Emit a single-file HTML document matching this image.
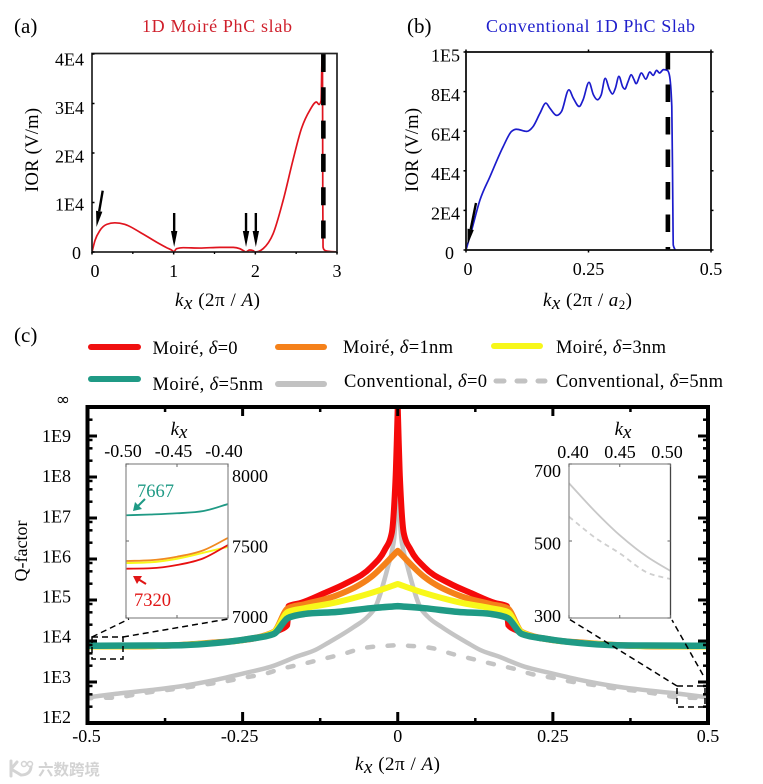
<!DOCTYPE html>
<html lang="en">
<head>
<meta charset="utf-8">
<title>Moiré PhC slab IOR and Q-factor</title>
<style>
html,body{margin:0;padding:0;background:#fff;width:763px;height:784px;overflow:hidden}
svg{display:block;font-family:"Liberation Serif","Noto Serif CJK SC",serif;fill:#000}
</style>
</head>
<body>
<svg id="fig" width="763" height="784" viewBox="0 0 763 784" xmlns="http://www.w3.org/2000/svg">
  <defs>
    <clipPath id="clipA"><rect x="92" y="53.500" width="245" height="198.500"/></clipPath>
    <clipPath id="clipC"><rect x="87.5" y="407" width="620.5" height="316"/></clipPath>
    <clipPath id="clipL"><rect x="126" y="464" width="102" height="154"/></clipPath>
    <clipPath id="clipR"><rect x="569" y="464" width="101.500" height="154"/></clipPath>
  </defs>

  <text x="14" y="33" font-size="21">(a)</text>
  <text x="142" y="32" font-size="18" fill="#cf1f2b" textLength="150">1D Moiré PhC slab</text>
  <text x="407" y="33" font-size="21">(b)</text>
  <text x="486" y="32" font-size="18" fill="#2020cc" textLength="209">Conventional  1D PhC Slab</text>
  <text x="14" y="342" font-size="21">(c)</text>

  <g id="panelA"></g>
  <text transform="translate(38,150) rotate(-90)" text-anchor="middle" font-size="18.500" textLength="84">IOR (V/m)</text>
  <text x="175" y="306" font-size="19" textLength="85"><tspan font-style="italic">k</tspan><tspan font-style="italic" dy="3">x</tspan><tspan dy="-3"> (2π / </tspan><tspan font-style="italic">A</tspan>)</text>

  <g id="panelB"></g>
  <text transform="translate(418,150) rotate(-90)" text-anchor="middle" font-size="18.500" textLength="84">IOR (V/m)</text>
  <text x="543" y="306" font-size="19" textLength="89"><tspan font-style="italic">k</tspan><tspan font-style="italic" dy="3">x</tspan><tspan dy="-3"> (2π / </tspan><tspan font-style="italic">a</tspan><tspan font-size="13" dy="3">2</tspan><tspan dy="-3">)</tspan></text>

  <g font-size="18.500">
    <g>
      <line x1="91" y1="347" x2="138" y2="347" stroke="#f01010" stroke-width="6" stroke-linecap="round"/>
      <text x="152.500" y="354" textLength="85">Moiré, <tspan font-style="italic">δ</tspan>=0</text>
    </g>
    <g>
      <line x1="278" y1="347" x2="324" y2="347" stroke="#f5811a" stroke-width="6" stroke-linecap="round"/>
      <text x="343" y="353" textLength="110">Moiré, <tspan font-style="italic">δ</tspan>=1nm</text>
    </g>
    <g>
      <line x1="494" y1="346" x2="540" y2="346" stroke="#f7f71a" stroke-width="6" stroke-linecap="round"/>
      <text x="556" y="353" textLength="110">Moiré, <tspan font-style="italic">δ</tspan>=3nm</text>
    </g>
    <g>
      <line x1="91" y1="379" x2="138" y2="379" stroke="#1f9a85" stroke-width="6" stroke-linecap="round"/>
      <text x="152.500" y="390" textLength="110.500">Moiré, <tspan font-style="italic">δ</tspan>=5nm</text>
    </g>
    <g>
      <line x1="278" y1="384" x2="324" y2="384" stroke="#c2c2c2" stroke-width="6" stroke-linecap="round"/>
      <text x="344" y="387" textLength="143">Conventional, <tspan font-style="italic">δ</tspan>=0</text>
    </g>
    <g>
      <line x1="496" y1="381" x2="545" y2="381" stroke="#c2c2c2" stroke-width="5" stroke-linecap="round" stroke-dasharray="8 13"/>
      <text x="556" y="387" textLength="167">Conventional, <tspan font-style="italic">δ</tspan>=5nm</text>
    </g>
  </g>

  <g id="panelC"></g>
  <text x="63" y="405" text-anchor="middle" font-size="17" font-family="'DejaVu Sans',sans-serif">∞</text>
  <text transform="translate(27,551) rotate(-90)" text-anchor="middle" font-size="18">Q-factor</text>
  <text x="355" y="770" font-size="19" textLength="85"><tspan font-style="italic">k</tspan><tspan font-style="italic" dy="3">x</tspan><tspan dy="-3"> (2π / </tspan><tspan font-style="italic">A</tspan>)</text>

  <g id="insetL"></g>
  <text x="179" y="435" text-anchor="middle" font-size="19"><tspan font-style="italic">k</tspan><tspan font-style="italic" dy="3">x</tspan></text>
  <text x="137" y="497" font-size="18.500" fill="#1f9a85">7667</text>
  <text x="134" y="606" font-size="18.500" fill="#e01515">7320</text>
  <g>
    <line x1="145" y1="499" x2="137" y2="507" stroke="#1f9a85" stroke-width="2"/>
    <polygon points="133,511 135,502 142,509" fill="#1f9a85"/>
  </g>
  <g>
    <line x1="146" y1="584" x2="138" y2="579" stroke="#e01515" stroke-width="2"/>
    <polygon points="133,576 142,576 137,584" fill="#e01515"/>
  </g>

  <g id="insetR"></g>
  <text x="623" y="435" text-anchor="middle" font-size="19"><tspan font-style="italic">k</tspan><tspan font-style="italic" dy="3">x</tspan></text>

  <g fill="none" stroke="#000" stroke-width="1.500" stroke-dasharray="6 4">
    <rect x="92" y="637" width="31" height="22"/>
    <line x1="92" y1="637" x2="129" y2="619"/>
    <line x1="123" y1="637" x2="228" y2="619"/>
    <rect x="677" y="686" width="28" height="21"/>
    <line x1="677" y1="686" x2="569" y2="619"/>
    <line x1="703" y1="675" x2="672" y2="620"/>
  </g>

  <g opacity="0.9">
    <path d="M11 761 L11 776 M11 769 L17 762 M11 769 L21 775 Q30 775 31 767" fill="none" stroke="#d0d0d0" stroke-width="3" stroke-linecap="round"/>
    <circle cx="24" cy="764" r="2.500" fill="none" stroke="#d0d0d0" stroke-width="1.500"/>
    <circle cx="30" cy="764" r="2.500" fill="none" stroke="#d0d0d0" stroke-width="1.500"/>
    <text x="38" y="775" font-size="15.500" font-weight="700" fill="#cfcfcf" font-family="'Liberation Sans','Noto Sans CJK SC',sans-serif">六数跨境</text>
  </g>
</svg>

<script>
/* ---------- Panel (a) data ---------- */
const aKx = [0,0.037,0.098,0.18,0.28,0.40,0.587,0.79,0.913,0.995,1.0,1.035,1.117,1.32,1.565,1.73,1.81,1.87,1.88,1.93,1.97,2.0,2.095,2.218,2.34,2.46,2.564,2.666,2.748,2.78,2.805,2.815,2.822,2.826,2.829,2.84,2.87,3.0];
const aIor = [0,2350,4370,5580,5900,5600,4000,2000,870,130,0,670,870,800,940,940,670,100,0,400,300,0,670,3700,10400,18500,24900,28600,30300,29800,30600,38000,40000,10400,1000,500,200,0];
const aXTicks = [0,1,2,3];
const aXMinor = [0.5,1.5,2.5];
const aYTicks = [0,10000,20000,30000,40000];
const aYLabels = ['0','1E4','2E4','3E4','4E4'];
const aCutoff = [2.833];
const aArrowsK = [1,1.88,2];

/* ---------- Panel (b) data ---------- */
const bKx = [0,0.0116,0.0286,0.049,0.076,0.093,0.103,0.124,0.137,0.151,0.163,0.171,0.185,0.195,0.21,0.219,0.231,0.239,0.251,0.26,0.268,0.276,0.284,0.293,0.299,0.305,0.312,0.32,0.324,0.331,0.337,0.343,0.347,0.358,0.367,0.375,0.382,0.389,0.395,0.403,0.411,0.415,0.42,0.422,0.423,0.427];
const bIor = [0,10100,25300,37100,52300,59900,61000,59900,62400,69100,74200,71700,68000,70000,80900,76700,72500,75900,84700,78400,75900,78400,86700,80900,78800,81800,87700,82300,81300,85200,88500,86000,84000,89400,86300,89900,88200,90700,89400,91100,90700,88500,72500,25300,2500,0];
const bXTicks = [0,0.25,0.5];
const bXLabels = ['0','0.25','0.5'];
const bYTicks = [0,20000,40000,60000,80000,100000];
const bYLabels = ['0','2E4','4E4','6E4','8E4','1E5'];
const bCutoff = [0.412];

/* ---------- Panel (c) data: |kx| and log10(Q), mirrored about kx = 0 ---------- */
const redK = [0,0.0015,0.003,0.005,0.0097,0.021,0.043,0.083,0.118,0.156,0.176,0.178,0.19,0.2,0.22,0.25,0.3,0.35,0.4,0.45,0.5];
const redLogQ = [9.71,8.9,8.17,7.51,6.63,6.22,5.80,5.41,5.17,4.93,4.85,4.39,4.27,4.2,4.1,4.02,3.95,3.90,3.8735,3.866,3.8645];
const orangeK = [0,0.043,0.097,0.15,0.177,0.2,0.25,0.3,0.35,0.4,0.45,0.5];
const orangeLogQ = [6.2,5.56,5.12,4.90,4.80,4.22,4.03,3.96,3.905,3.876,3.870,3.8675];
const yellowK = [0,0.043,0.097,0.15,0.177,0.2,0.25,0.3,0.35,0.4,0.45,0.5];
const yellowLogQ = [5.39,5.17,4.95,4.80,4.71,4.21,4.02,3.95,3.90,3.872,3.869,3.8667];
const tealK = [0,0.043,0.097,0.15,0.177,0.2,0.24,0.294,0.345,0.4,0.45,0.5];
const tealLogQ = [4.85,4.80,4.71,4.66,4.56,4.17,4.05,3.95,3.90,3.889,3.886,3.885];
const graySolidK = [0,0.0015,0.005,0.009,0.016,0.036,0.049,0.071,0.113,0.133,0.161,0.205,0.24,0.294,0.348,0.40,0.455,0.5];
const graySolidLogQ = [9.0,7.8,6.63,6.22,5.80,4.83,4.585,4.34,3.95,3.78,3.63,3.37,3.24,3.05,2.90,2.80,2.71,2.625];
const grayDashK = [0,0.054,0.089,0.121,0.153,0.188,0.214,0.25,0.283,0.315,0.348,0.386,0.418,0.455,0.488,0.5];
const grayDashLogQ = [3.90,3.83,3.68,3.56,3.44,3.32,3.20,3.10,3.00,2.93,2.85,2.78,2.71,2.62,2.61,2.603];
const cXTicks = [-0.5,-0.25,0,0.25,0.5];
const cXLabels = ['-0.5','-0.25','0','0.25','0.5'];
const cXMinor = [-0.375,-0.125,0.125,0.375];
const cYDecades = [2,3,4,5,6,7,8,9];
const cYLabels = ['1E2','1E3','1E4','1E5','1E6','1E7','1E8','1E9'];
const cMinorFactors = [2.5,5,8];

/* ---------- Left inset data ---------- */
const insetLK = [-0.5,-0.476,-0.45,-0.424,-0.4];
const insetLTeal = [7667,7672,7680,7695,7740];
const insetLOrange = [7370,7375,7398,7440,7520];
const insetLYellow = [7357,7362,7385,7424,7462];
const insetLRed = [7320,7323,7344,7388,7474];
const insetLXTicks = [-0.5,-0.45,-0.4];
const insetLXLabels = ['-0.50','-0.45','-0.40'];
const insetLYTicks = [7000,7500,8000];
const insetLYLabels = ['7000','7500','8000'];

/* ---------- Right inset data ---------- */
const insetRK = [0.4,0.426,0.45,0.477,0.5];
const insetRSolid = [650,576,515,459,422];
const insetRDash = [563,508,468,418,401];
const insetRXTicks = [0.4,0.45,0.5];
const insetRXLabels = ['0.40','0.45','0.50'];
const insetRYTicks = [300,500,700];
const insetRYLabels = ['300','500','700'];

const NS = 'http://www.w3.org/2000/svg';
function mk(parent, tag, attrs) {
  const el = document.createElementNS(NS, tag);
  for (const k in attrs) el.setAttribute(k, attrs[k]);
  parent.appendChild(el);
  return el;
}
/* Monotone cubic through points whose x runs strictly one way: no overshoot. */
function monoSegments(pts) {
  const n = pts.length, h = [], s = [], t = new Array(n);
  for (let i = 0; i < n - 1; i++) {
    h[i] = pts[i + 1][0] - pts[i][0];
    s[i] = (pts[i + 1][1] - pts[i][1]) / h[i];
  }
  for (let i = 1; i < n - 1; i++) {
    const p = (s[i - 1] * h[i] + s[i] * h[i - 1]) / (h[i - 1] + h[i]);
    t[i] = (Math.sign(s[i - 1]) + Math.sign(s[i])) * Math.min(Math.abs(s[i - 1]), Math.abs(s[i]), 0.5 * Math.abs(p));
  }
  t[0] = s[0];
  t[n - 1] = s[n - 2];
  let d = '';
  for (let i = 0; i < n - 1; i++) {
    const c = h[i] / 3;
    d += ' C' + (pts[i][0] + c).toFixed(2) + ' ' + (pts[i][1] + t[i] * c).toFixed(2) + ' ' +
      (pts[i + 1][0] - c).toFixed(2) + ' ' + (pts[i + 1][1] - t[i + 1] * c).toFixed(2) + ' ' +
      pts[i + 1][0].toFixed(2) + ' ' + pts[i + 1][1].toFixed(2);
  }
  return d;
}
function monoPath(pts) {
  return 'M' + pts[0][0].toFixed(2) + ' ' + pts[0][1].toFixed(2) + monoSegments(pts);
}
function label(parent, txt, x, y, size, anchor, name) {
  const el = mk(parent, 'text', {x: x, y: y, 'font-size': size, 'text-anchor': anchor});
  el.textContent = txt;
  
  
  return el;
}
function segment(parent, x1, y1, x2, y2, color, width, name) {
  const el = mk(parent, 'line', {x1: x1, y1: y1, x2: x2, y2: y2, stroke: color, 'stroke-width': width});
  
  
  return el;
}
function curve(parent, d, color, width, name, extra) {
  const el = mk(parent, 'path', Object.assign({d: d, fill: 'none', stroke: color, 'stroke-width': width, 'stroke-linejoin': 'round'}, extra || {}));
  
  
  return el;
}
function frame(parent, x, y, w, h, color, width, name) {
  const el = mk(parent, 'rect', {x: x, y: y, width: w, height: h, fill: 'none', stroke: color, 'stroke-width': width});
  
  
  return el;
}
function arrow(parent, x1, y1, x2, y2, name) {
  const g = mk(parent, 'g', {});
  
  
  const dx = x2 - x1, dy = y2 - y1, len = Math.hypot(dx, dy), ux = dx / len, uy = dy / len;
  const bx = x2 - ux * 16, by = y2 - uy * 16;
  segment(g, x1, y1, bx, by, '#000', 2.4, name + '-shaft');
  const head = mk(g, 'polygon', {points: x2 + ',' + y2 + ' ' + (bx - uy * 3.2) + ',' + (by + ux * 3.2) + ' ' + (bx + uy * 3.2) + ',' + (by - ux * 3.2), fill: '#000'});
  
  
}

/* ---------- Panel (a) ---------- */
(function () {
  const g = document.getElementById('panelA');
  const xS = k => 92 + k * (245 / 3);
  const yS = v => 252 - v * (198 / 40000);
  const pts = aKx.map((k, i) => [xS(k), yS(aIor[i])]);
  const plot = mk(g, 'g', {'clip-path': 'url(#clipA)'});
  
  
  curve(plot, monoPath(pts), '#e0141e', 1.7, 'moire-ior-curve');
  aCutoff.forEach(k => {
    const el = segment(g, xS(k), yS(40000), xS(k), yS(0), '#000', 4.600, 'panel-a-cutoff-line');
    el.setAttribute('stroke-dasharray', '18 15.3');
  });
  frame(g, 92, 53.5, 245, 198.5, '#222', 1.7, 'panel-a-frame');
  aYTicks.forEach((v, i) => {
    segment(g, 92, yS(v), 94.5, yS(v), '#000', 1.5, 'panel-a-y-tick');
    label(g, aYLabels[i], i === 0 ? 81 : 84, yS(v) + 7 + 4.7 * v / 40000, 18, 'end', 'panel-a-y-tick-label');
  });
  aXTicks.forEach(k => {
    segment(g, xS(k), 252, xS(k), 254.5, '#000', 1.5, 'panel-a-x-tick');
    label(g, String(k), xS(k) + (k === 0 ? 3 : 0), 277, 18, 'middle', 'panel-a-x-tick-label');
  });
  aXMinor.forEach(k => {
    segment(g, xS(k), 252, xS(k), 254, '#000', 1.3, 'panel-a-x-minor-tick');
  });
  arrow(g, 102.7, 190.7, 96.5, 227, 'arrow-gamma-point');
  aArrowsK.forEach(k => {
    arrow(g, xS(k) + 0.5, 213, xS(k) + 0.5, 247, 'arrow-at-k');
  });
})();

/* ---------- Panel (b) ---------- */
(function () {
  const g = document.getElementById('panelB');
  const xS = k => 466 + k * 490;
  const yS = v => 250 - v * (198 / 100000);
  const pts = bKx.map((k, i) => [xS(k), yS(bIor[i])]);
  curve(g, monoPath(pts), '#1c1ccc', 1.7, 'conventional-ior-curve');
  bCutoff.forEach(k => {
    const el = segment(g, xS(k), yS(100000), xS(k), yS(0), '#000', 4.600, 'panel-b-cutoff-line');
    el.setAttribute('stroke-dasharray', '17.5 15');
  });
  frame(g, 466, 52, 245, 198, '#111', 1.8, 'panel-b-frame');
  bYTicks.forEach((v, i) => {
    segment(g, 463.5, yS(v), 466, yS(v), '#000', 1.5, 'panel-b-y-tick');
    segment(g, 711, yS(v), 713.5, yS(v), '#000', 1.5, 'panel-b-y-tick-right');
    label(g, bYLabels[i], i === 0 ? 454 : 460, yS(v) + 9 + 0.7 * v / 100000, 18, 'end', 'panel-b-y-tick-label');
  });
  bXTicks.forEach((k, i) => {
    segment(g, xS(k), 250, xS(k), 252.5, '#000', 1.5, 'panel-b-x-tick');
    segment(g, xS(k), 49.5, xS(k), 52, '#000', 1.5, 'panel-b-x-tick-top');
    label(g, bXLabels[i], xS(k) + (i === 0 ? 2 : 0), 275, 18, 'middle', 'panel-b-x-tick-label');
  });
  arrow(g, 476, 203, 467.5, 245, 'arrow-gamma-point-conventional');
})();

/* ---------- Panel (c) ---------- */
(function () {
  const g = document.getElementById('panelC');
  const xS = k => 397.75 + k * 620.5;
  const yS = l => 723 - (l - 2) * 41;
  function mirroredPath(ks, vals) {
    const left = ks.map((k, i) => [xS(-k), yS(vals[i])]).reverse();
    const right = ks.map((k, i) => [xS(k), yS(vals[i])]);
    return 'M' + left[0][0].toFixed(2) + ' ' + left[0][1].toFixed(2) + monoSegments(left) + monoSegments(right);
  }
  const plot = mk(g, 'g', {'clip-path': 'url(#clipC)'});
  
  
  curve(plot, mirroredPath(grayDashK, grayDashLogQ), '#c4c4c4', 4.5, 'curve-conventional-5nm', {'stroke-dasharray': '6 14.5', 'stroke-linecap': 'round', 'stroke-dashoffset': '2'});
  curve(plot, mirroredPath(graySolidK, graySolidLogQ), '#c4c4c4', 4.5, 'curve-conventional-0');
  curve(plot, mirroredPath(redK, redLogQ), '#f50a0a', 6, 'curve-moire-0');
  curve(plot, mirroredPath(orangeK, orangeLogQ), '#f5811a', 6, 'curve-moire-1nm');
  curve(plot, mirroredPath(yellowK, yellowLogQ), '#f8f81a', 6, 'curve-moire-3nm');
  curve(plot, mirroredPath(tealK, tealLogQ), '#1f9a85', 6.500, 'curve-moire-5nm');

  frame(g, 87.5, 407, 620.5, 316, '#000', 4, 'panel-c-frame');
  cXTicks.forEach((k, i) => {
    if (i > 0 && i < cXTicks.length - 1) {
      segment(g, xS(k), 723, xS(k), 712, '#000', 3, 'panel-c-x-tick');
      segment(g, xS(k), 407, xS(k), 416, '#000', 3, 'panel-c-x-tick-top');
    }
    label(g, cXLabels[i], xS(k) + (i === 0 ? -1 : i === 1 ? -3 : 0), 742, 18, 'middle', 'panel-c-x-tick-label');
  });
  cXMinor.forEach(k => {
    segment(g, xS(k), 723, xS(k), 718, '#000', 2.500, 'panel-c-x-minor-tick');
    segment(g, xS(k), 407, xS(k), 412, '#000', 2.500, 'panel-c-x-minor-tick-top');
  });
  cYDecades.forEach((n, i) => {
    const y = yS(n);
    if (n > 2) {
      segment(g, 87.5, y, 97, y, '#000', 3, 'panel-c-y-tick');
      segment(g, 708, y, 698, y, '#000', 3, 'panel-c-y-tick-right');
    }
    label(g, cYLabels[i], 71, y + (n - 2) * 0.86, 18, 'end', 'panel-c-y-tick-label');
    cMinorFactors.forEach(f => {
      const ym = yS(n + Math.log10(f));
      if (ym > 409) {
        segment(g, 87.5, ym, 92.5, ym, '#000', 2.5, 'panel-c-y-minor-tick');
        segment(g, 708, ym, 703, ym, '#000', 2.5, 'panel-c-y-minor-tick-right');
      }
    });
  });
})();

/* ---------- Left inset ---------- */
(function () {
  const g = document.getElementById('insetL');
  const xS = k => 126 + (k + 0.5) * 1020;
  const yS = v => 618 - (v - 7000) * 0.154;
  const bg = mk(g, 'rect', {x: 126, y: 464, width: 102, height: 154, fill: '#fff'});
  
  
  const plot = mk(g, 'g', {'clip-path': 'url(#clipL)'});
  
  
  function path(vals) { return monoPath(insetLK.map((k, i) => [xS(k), yS(vals[i])])); }
  curve(plot, path(insetLYellow), '#f8f81a', 2, 'inset-curve-moire-3nm');
  curve(plot, path(insetLOrange), '#f08a20', 1.8, 'inset-curve-moire-1nm');
  curve(plot, path(insetLRed), '#e81010', 1.8, 'inset-curve-moire-0');
  curve(plot, path(insetLTeal), '#1f9a85', 1.8, 'inset-curve-moire-5nm');
  frame(g, 126, 464, 102, 154, '#8a8a8a', 1.2, 'left-inset-frame');
  insetLXTicks.forEach((k, i) => {
    label(g, insetLXLabels[i], 123 + i * 50.5, 457, 18, 'middle', 'left-inset-x-tick-label');
    segment(g, xS(k), 464, xS(k), 467, '#666', 1, 'left-inset-x-tick-top');
    segment(g, xS(k), 618, xS(k), 615, '#666', 1, 'left-inset-x-tick-bottom');
  });
  insetLYTicks.forEach((v, i) => {
    label(g, insetLYLabels[i], 232, yS(v) + 5 + i * 6.5, 18, 'start', 'left-inset-y-tick-label');
    segment(g, 126, yS(v), 129, yS(v), '#666', 1, 'left-inset-y-tick');
  });
})();

/* ---------- Right inset ---------- */
(function () {
  const g = document.getElementById('insetR');
  const xS = k => 569 + (k - 0.4) * 1015;
  const yS = v => 618 - (v - 300) * 0.385;
  const bg = mk(g, 'rect', {x: 569, y: 464, width: 101.5, height: 154, fill: '#fff'});
  
  
  const plot = mk(g, 'g', {'clip-path': 'url(#clipR)'});
  
  
  function path(vals) { return monoPath(insetRK.map((k, i) => [xS(k), yS(vals[i])])); }
  curve(plot, path(insetRSolid), '#c8c8c8', 1.8, 'inset-curve-conventional-0');
  curve(plot, path(insetRDash), '#cfcfcf', 1.8, 'inset-curve-conventional-5nm', {'stroke-dasharray': '5 4'});
  frame(g, 569, 464, 101.5, 154, '#8a8a8a', 1.2, 'right-inset-frame');
  segment(g, 670.5, 464, 670.5, 618, '#444', 1.2, 'right-inset-right-edge');
  insetRXTicks.forEach((k, i) => {
    label(g, insetRXLabels[i], 573 + i * 47, 458, 18, 'middle', 'right-inset-x-tick-label');
    segment(g, xS(k), 464, xS(k), 467, '#666', 1, 'right-inset-x-tick-top');
    segment(g, xS(k), 618, xS(k), 615, '#666', 1, 'right-inset-x-tick-bottom');
  });
  insetRYTicks.forEach((v, i) => {
    label(g, insetRYLabels[i], 561, yS(v) + 4 + i * 4.5, 18, 'end', 'right-inset-y-tick-label');
    segment(g, 569, yS(v), 572, yS(v), '#666', 1, 'right-inset-y-tick');
    segment(g, 670.5, yS(v), 667.5, yS(v), '#666', 1, 'right-inset-y-tick-right');
  });
})();
</script>
</body>
</html>
